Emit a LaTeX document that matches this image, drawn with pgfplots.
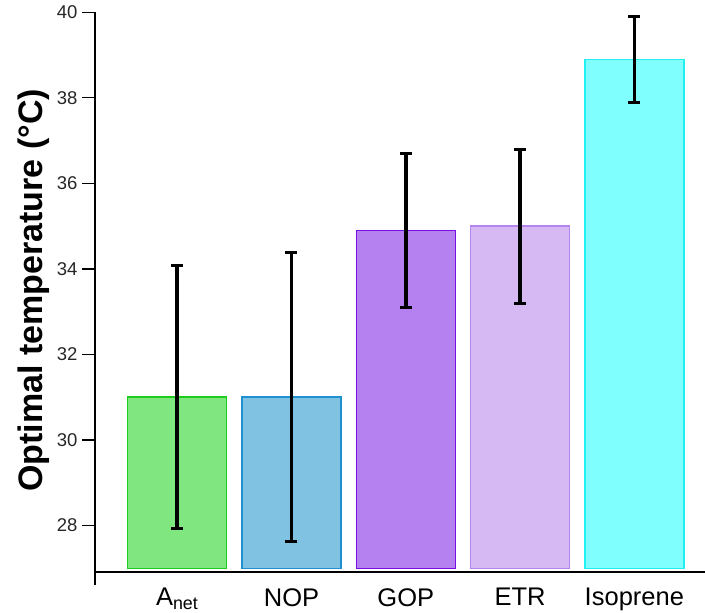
\documentclass[border=0pt]{standalone}
\usepackage{fontspec}
\setmainfont{Liberation Sans}
\usepackage{pgfplots}
\pgfplotsset{compat=1.18}
\definecolor{gfill}{HTML}{80E680}\definecolor{gedge}{HTML}{1ECC1E}
\definecolor{bfill}{HTML}{80C2E2}\definecolor{bedge}{HTML}{2090D0}
\definecolor{pfill}{HTML}{B580F0}\definecolor{pedge}{HTML}{7A10E0}
\definecolor{lfill}{HTML}{D6B9F2}\definecolor{ledge}{HTML}{B585EE}
\definecolor{cfill}{HTML}{80FFFF}\definecolor{cedge}{HTML}{20F0F0}
\begin{document}
\begin{tikzpicture}
\begin{axis}[
  name=ax,
  width=610pt, height=556pt, scale only axis,
  xmin=-0.719, xmax=4.618, ymin=27, ymax=40,
  ybar, bar width=0.866, bar shift=0pt,
  axis line style={draw=none},
  ytick={28,30,32,34,36,38,40},
  xtick={0,1,2,3,4},
  xticklabels={A\textsubscript{net},NOP,GOP,ETR,Isoprene},
  tick align=outside, major tick length=13pt,
  ytick style={black, line width=1.3pt},
  xtick style={draw=none},
  tick pos=left,
  /pgf/number format/assume math mode=true,
  yticklabel style={font=\fontsize{18.5}{20}\selectfont, text=black!85, xshift=-1pt},
  xticklabel style={font=\fontsize{25.5}{27}\selectfont, text=black, yshift=-3.5pt},
  ylabel={Optimal temperature (°C)},
  ylabel style={font=\bfseries\fontsize{34}{36}\selectfont},
  error bars/y dir=both, error bars/y explicit,
  error bars/error bar style={black, line width=3.5pt},
  error bars/error mark options={rotate=90, mark size=6pt, line width=3pt, black},
]
\addplot[fill=gfill, draw=gedge, line width=1.5pt] coordinates {(0,31) +- (0,3.08)};
\addplot[fill=bfill, draw=bedge, line width=1.5pt] coordinates {(1,31) +- (0,3.38)};
\addplot[fill=pfill, draw=pedge, line width=1.5pt] coordinates {(2,34.9) +- (0,1.8)};
\addplot[fill=lfill, draw=ledge, line width=1.5pt] coordinates {(3,35.0) +- (0,1.8)};
\addplot[fill=cfill, draw=cedge, line width=1.5pt] coordinates {(4,38.9) +- (0,1.0)};
\end{axis}
\draw[line width=1.5pt, black] (ax.north west) -- (ax.south west) -- ++(0,-17pt);
\draw[line width=1.5pt, black] ([yshift=-3.7pt]ax.south west) -- ([yshift=-3.7pt]ax.south east);
\pgfresetboundingbox
\path (ax.south west) ++(-95pt,-44.7pt) rectangle ++(705pt,613pt);
\end{tikzpicture}
\end{document}
